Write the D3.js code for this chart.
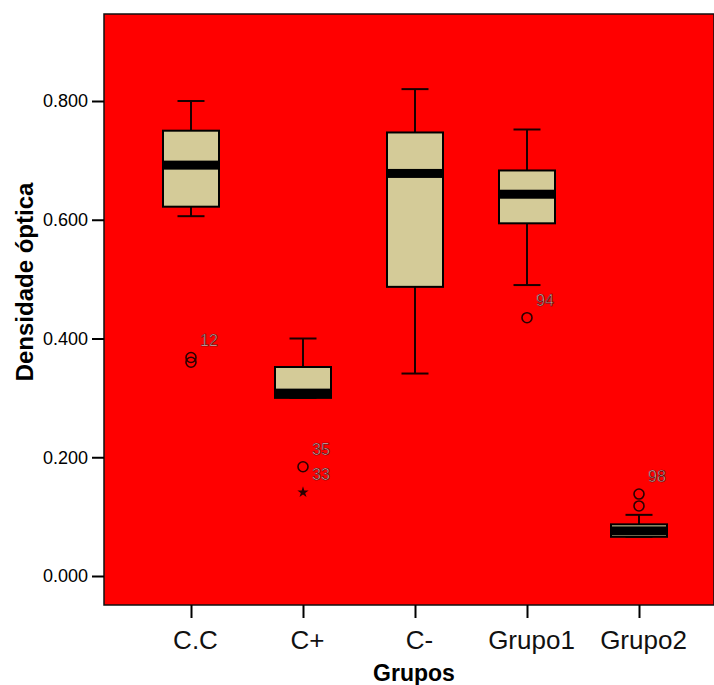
<!DOCTYPE html>
<html>
<head>
<meta charset="utf-8">
<script src="https://cdn.jsdelivr.net/npm/d3@7"></script>
<style>
  body { margin: 0; background: #fff; }
  svg { display: block; }
</style>
</head>
<body>
<div id="chart"></div>
<script>
// box plot summary per group
const groups = ['C.C', 'C+', 'C-', 'Grupo1', 'Grupo2']
const whiskerLow = [0.606, 0.300, 0.341, 0.490, 0.066]
const q1 = [0.622, 0.300, 0.487, 0.594, 0.066]
const median = [0.692, 0.308, 0.678, 0.643, 0.076]
const q3 = [0.750, 0.352, 0.747, 0.683, 0.087]
const whiskerHigh = [0.800, 0.400, 0.820, 0.752, 0.103]

// outliers (circles) and extremes (stars)
const outlierGroup = ['C.C', 'C.C', 'C+', 'Grupo1', 'Grupo2', 'Grupo2']
const outlierValue = [0.368, 0.360, 0.184, 0.435, 0.138, 0.118]
const outlierLabel = ['12', '', '35', '94', '98', '']
const extremeGroup = ['C+']
const extremeValue = [0.141]
const extremeLabel = ['33']

const yTicks = [0, 0.2, 0.4, 0.6, 0.8]

const width = 714
const height = 685
const plot = { left: 104, right: 714, top: 14, bottom: 605 }

const svg = d3.select('#chart').append('svg')
    .attr('width', width)
    .attr('height', height)

const y = d3.scaleLinear()
    .domain([0, 0.8])
    .range([576, 101])

const x = d3.scalePoint()
    .domain(groups)
    .range([191, 639])

// red plot background
svg.append('rect')
    .attr('x', plot.left)
    .attr('y', plot.top)
    .attr('width', plot.right - plot.left)
    .attr('height', plot.bottom - plot.top)
    .attr('fill', '#ff0000')
    .attr('stroke', '#111')
    .attr('stroke-width', 1.5)

// y axis
const yAxis = svg.append('g')
    .attr('transform', `translate(${plot.left},0)`)
    .call(d3.axisLeft(y).tickValues(yTicks).tickFormat(d3.format('.3f')).tickSize(12).tickPadding(4))
yAxis.select('.domain').remove()
yAxis.selectAll('.tick line').attr('stroke', '#000').attr('stroke-width', 2)
yAxis.selectAll('.tick text')
    .attr('fill', '#000')
    .style('font-family', '"Liberation Sans Narrow", "Liberation Sans", Arial, sans-serif')
    .style('font-size', '18px')

// x axis
const xAxis = svg.append('g')
    .attr('transform', `translate(0,${plot.bottom})`)
    .call(d3.axisBottom(x).tickSize(13).tickPadding(13))
xAxis.select('.domain').remove()
xAxis.selectAll('.tick line').attr('stroke', '#000').attr('stroke-width', 2)
xAxis.selectAll('.tick text')
    .attr('fill', '#111')
    .attr('dx', 4)
    .style('font-family', '"Liberation Sans", Arial, sans-serif')
    .style('font-size', '26px')

// axis titles
svg.append('text')
    .attr('x', 414)
    .attr('y', 681)
    .attr('text-anchor', 'middle')
    .style('font-family', '"Liberation Sans Narrow", "Liberation Sans", Arial, sans-serif')
    .style('font-weight', 'bold')
    .style('font-size', '23px')
    .text('Grupos')

svg.append('text')
    .attr('transform', 'translate(33,282) rotate(-90)')
    .attr('text-anchor', 'middle')
    .style('font-family', '"Liberation Sans", Arial, sans-serif')
    .style('font-weight', 'bold')
    .style('font-size', '24px')
    .text('Densidade óptica')

// boxes
const boxW = 56
const capW = 27
const rows = groups.map((g, i) => ({
    g, lo: whiskerLow[i], q1: q1[i], med: median[i], q3: q3[i], hi: whiskerHigh[i]
}))

const box = svg.append('g').selectAll('g')
    .data(rows)
    .join('g')

box.append('line')
    .attr('x1', d => x(d.g)).attr('x2', d => x(d.g))
    .attr('y1', d => y(d.hi)).attr('y2', d => y(d.lo))
    .attr('stroke', '#1a0000').attr('stroke-width', 2)

box.selectAll('line.cap')
    .data(d => [d.hi, d.lo].map(v => ({ g: d.g, v })))
    .join('line')
    .attr('class', 'cap')
    .attr('x1', d => x(d.g) - capW / 2).attr('x2', d => x(d.g) + capW / 2)
    .attr('y1', d => y(d.v)).attr('y2', d => y(d.v))
    .attr('stroke', '#1a0000').attr('stroke-width', 2)

box.append('rect')
    .attr('x', d => x(d.g) - boxW / 2)
    .attr('y', d => y(d.q3))
    .attr('width', boxW)
    .attr('height', d => y(d.q1) - y(d.q3))
    .attr('fill', '#d4cb98')
    .attr('stroke', '#000')
    .attr('stroke-width', 2)

box.append('rect')
    .attr('x', d => x(d.g) - boxW / 2)
    .attr('y', d => y(d.med) - 4.5)
    .attr('width', boxW)
    .attr('height', 9)
    .attr('fill', '#000')

// outliers
const outliers = outlierGroup.map((g, i) => ({ g, v: outlierValue[i], label: outlierLabel[i] }))
const extremes = extremeGroup.map((g, i) => ({ g, v: extremeValue[i], label: extremeLabel[i] }))

svg.append('g').selectAll('circle')
    .data(outliers)
    .join('circle')
    .attr('cx', d => x(d.g))
    .attr('cy', d => y(d.v))
    .attr('r', 5)
    .attr('fill', 'none')
    .attr('stroke', '#2a0000')
    .attr('stroke-width', 1.6)

svg.append('g').selectAll('path')
    .data(extremes)
    .join('path')
    .attr('transform', d => `translate(${x(d.g)},${y(d.v)})`)
    .attr('d', d3.symbol(d3.symbolStar, 40))
    .attr('fill', '#2a0000')

svg.append('g').selectAll('text')
    .data(outliers.concat(extremes).filter(d => d.label))
    .join('text')
    .attr('x', d => x(d.g) + 9)
    .attr('y', d => y(d.v) - 12)
    .attr('fill', '#d8c4c4')
    .attr('stroke', '#5a0000')
    .attr('stroke-width', 0.6)
    .style('font-family', '"Liberation Sans Narrow", "Liberation Sans", Arial, sans-serif')
    .style('font-size', '16px')
    .text(d => d.label)
</script>
</body>
</html>
